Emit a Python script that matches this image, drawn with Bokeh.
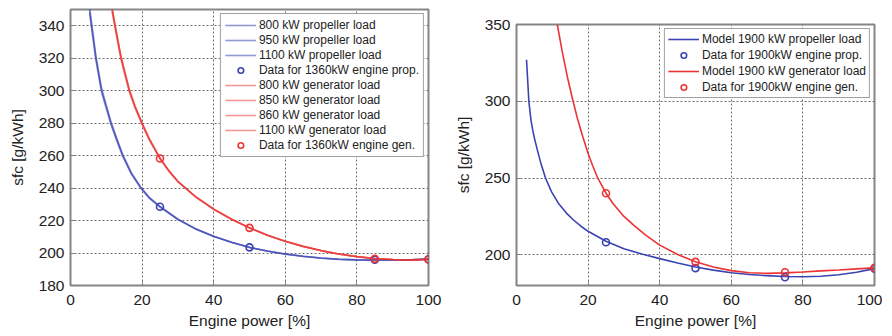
from bokeh.plotting import figure
from bokeh.layouts import row, column
from bokeh.models import Range1d, FixedTicker, Legend, LegendItem, Spacer
from bokeh.embed import file_html
from bokeh.resources import INLINE

# ---------------- Left panel: 1360 kW engine ----------------
prop_x = [5.3, 5.9, 7.1, 8.7, 9.9, 11.3, 12.9, 14.6, 17, 19.7, 22, 25, 30, 35, 40, 45,
          50, 55, 60, 65, 70, 75, 80, 85, 90, 95, 100]
prop_800 = [350, 340, 320, 300, 290.8, 280, 270, 260, 249, 240, 234, 228.5, 220.8, 214.8,
            210.3, 206.6, 203.5, 201.2, 199.4, 198.0, 196.9, 196.2, 195.8, 195.7, 195.7,
            195.9, 196.3]
prop_950 = [352, 342, 321.5, 301.3, 291.8, 281, 270.8, 260.6, 249.5, 240.4, 234.3, 228.7,
            220.9, 214.9, 210.3, 206.6, 203.5, 201.2, 199.4, 198.0, 196.9, 196.2, 195.8,
            195.7, 195.7, 195.9, 196.3]
prop_1100 = [348, 338, 318.5, 298.7, 289.8, 279.2, 269.3, 259.5, 248.6, 239.7, 233.8,
             228.3, 220.6, 214.7, 210.2, 206.5, 203.4, 201.1, 199.3, 197.9, 196.8, 196.1,
             195.7, 195.6, 195.6, 195.8, 196.2]

gen_x = [11.6, 12.4, 14.1, 16.4, 18, 19.9, 22, 25, 27.5, 30, 35, 40, 45, 50, 55, 60, 65,
         70, 75, 80, 85, 90, 95, 100]
gen_800 = [350, 340, 320, 300, 290, 280, 270, 258.2, 250.5, 244, 234.5, 227.0, 220.8,
           215.5, 211.0, 207.2, 204.1, 201.5, 199.4, 197.8, 196.6, 196.0, 195.8, 196.0]
gen_850 = [351, 341, 321, 300.8, 290.6, 280.5, 270.4, 258.4, 250.6, 244.1, 234.6, 227.0,
           220.8, 215.5, 211.0, 207.2, 204.1, 201.5, 199.4, 197.8, 196.6, 196.0, 195.8, 196.0]
gen_860 = [351.5, 341.3, 321.3, 301.1, 290.8, 280.7, 270.5, 258.5, 250.7, 244.2, 234.6,
           227.1, 220.9, 215.6, 211.0, 207.2, 204.1, 201.5, 199.4, 197.8, 196.6, 196.0,
           195.8, 196.0]
gen_1100 = [349, 339, 319.2, 299.3, 289.5, 279.6, 269.7, 258.0, 250.3, 243.9, 234.4,
            226.9, 220.7, 215.4, 210.9, 207.1, 204.0, 201.4, 199.3, 197.7, 196.6, 196.0,
            195.8, 196.0]

data1360_x = [25, 50, 85, 100]
data1360_prop = [228.5, 203.5, 195.9, 196.2]
data1360_gen = [258.2, 215.5, 196.4, 196.0]

left_xticks = [0, 20, 40, 60, 80, 100]
left_yticks = [180, 200, 220, 240, 260, 280, 300, 320, 340]

# ---------------- Right panel: 1900 kW engine ----------------
m1900_prop_x = [2.8, 3.45, 4.05, 4.55, 5.0, 5.8, 6.7, 8.1, 9.8, 11.8, 14, 16, 18, 20, 25,
                30, 35, 40, 45, 50, 55, 60, 65, 70, 75, 80, 85, 90, 95, 100]
m1900_prop_y = [327, 300, 287.5, 281, 276, 268.5, 260.5, 250, 241, 233.2, 227, 222.5,
                218.6, 215.3, 208.8, 204.0, 200.5, 197.5, 194.6, 192.0, 190.0, 188.3,
                187.2, 186.4, 185.9, 185.7, 186.0, 187.0, 188.6, 191.0]
m1900_gen_x = [11.4, 12.8, 14.2, 15.6, 17.0, 18.5, 20.0, 21.3, 22.6, 25, 27, 30, 32.8,
               36, 40, 45, 50, 55, 60, 65, 70, 75, 80, 85, 90, 95, 100]
m1900_gen_y = [350, 332, 316, 302, 289, 277, 266, 257.8, 250.5, 240.1, 233.2, 225,
               219.2, 213, 206.3, 200.2, 195.5, 192.0, 189.7, 188.3, 187.9, 188.2,
               188.8, 189.5, 190.1, 190.8, 191.5]

data1900_x = [25, 50, 75, 100]
data1900_prop = [208.2, 191.3, 185.4, 191.0]
data1900_gen = [240.1, 195.4, 188.6, 191.5]

right_xticks = [0, 20, 40, 60, 80, 100]
right_yticks = [200, 250, 300, 350]

FONT = "Liberation Sans"
BLUE = "#3b43b2"
RED = "#ec3434"
TXT = "#222222"


def style(p, xticks, yticks):
    p.xaxis.ticker = FixedTicker(ticks=xticks)
    p.yaxis.ticker = FixedTicker(ticks=yticks)
    p.xgrid.ticker = FixedTicker(ticks=xticks)
    p.ygrid.ticker = FixedTicker(ticks=yticks)
    for g in (p.xgrid, p.ygrid):
        g.grid_line_color = "#555555"
        g.grid_line_dash = "2 2"
        g.grid_line_alpha = 0.85
        g.grid_line_width = 1
    for ax in (p.xaxis, p.yaxis):
        ax.axis_line_color = None
        ax.major_tick_in = 4
        ax.major_tick_out = 0
        ax.major_tick_line_color = "#808080"
        ax.minor_tick_line_color = None
        ax.major_label_text_font = FONT
        ax.major_label_text_font_size = "15.5px"
        ax.major_label_text_color = TXT
        ax.axis_label_text_font = FONT
        ax.axis_label_text_font_size = "15.5px"
        ax.axis_label_text_font_style = "normal"
        ax.axis_label_text_color = TXT
    p.xaxis.major_label_standoff = 9
    p.yaxis.major_label_standoff = 6
    p.xaxis.axis_label_standoff = 4
    p.yaxis.axis_label_standoff = 10
    p.xaxis.axis_label = "Engine power [%]"
    p.yaxis.axis_label = "sfc [g/kWh]"
    p.outline_line_color = "#858585"
    p.outline_line_width = 2
    p.background_fill_color = "white"
    p.border_fill_color = "white"


def make_legend(items, spacing, padding):
    lg = Legend(items=items, location="top_right")
    lg.margin = 4
    lg.padding = padding
    lg.spacing = spacing
    lg.label_height = 14
    lg.glyph_height = 14
    lg.glyph_width = 31
    lg.label_standoff = 3
    lg.label_text_font = FONT
    lg.label_text_font_size = "12px"
    lg.label_text_color = TXT
    lg.border_line_color = "#444444"
    lg.border_line_width = 1
    lg.background_fill_color = "white"
    lg.background_fill_alpha = 1
    return lg


# ---------- left figure ----------
p1 = figure(frame_width=358, frame_height=276, min_border_left=70, min_border_right=18,
            min_border_top=9, min_border_bottom=49,
            x_range=Range1d(0, 100), y_range=Range1d(180, 350),
            output_backend="svg", toolbar_location=None)
style(p1, left_xticks, left_yticks)

lw = 1.6
r_p800 = p1.line(prop_x, prop_800, line_color=BLUE, line_alpha=0.55, line_width=lw)
r_p950 = p1.line(prop_x, prop_950, line_color=BLUE, line_alpha=0.55, line_width=lw)
r_p1100 = p1.line(prop_x, prop_1100, line_color=BLUE, line_alpha=0.55, line_width=lw)
r_g800 = p1.line(gen_x, gen_800, line_color=RED, line_alpha=0.5, line_width=lw)
r_g850 = p1.line(gen_x, gen_850, line_color=RED, line_alpha=0.5, line_width=lw)
r_g860 = p1.line(gen_x, gen_860, line_color=RED, line_alpha=0.5, line_width=lw)
r_g1100 = p1.line(gen_x, gen_1100, line_color=RED, line_alpha=0.5, line_width=lw)
r_dp = p1.scatter(data1360_x, data1360_prop, marker="circle", size=7, fill_color=None,
                  line_color=BLUE, line_width=1.6)
r_dg = p1.scatter(data1360_x, data1360_gen, marker="circle", size=7, fill_color=None,
                  line_color=RED, line_width=1.6)

lg1 = make_legend([
    LegendItem(label="800 kW propeller load", renderers=[r_p800]),
    LegendItem(label="950 kW propeller load", renderers=[r_p950]),
    LegendItem(label="1100 kW propeller load", renderers=[r_p1100]),
    LegendItem(label="Data for 1360kW engine prop.", renderers=[r_dp]),
    LegendItem(label="800 kW generator load", renderers=[r_g800]),
    LegendItem(label="850 kW generator load", renderers=[r_g850]),
    LegendItem(label="860 kW generator load", renderers=[r_g860]),
    LegendItem(label="1100 kW generator load", renderers=[r_g1100]),
    LegendItem(label="Data for 1360kW engine gen.", renderers=[r_dg]),
], spacing=1, padding=4)
p1.add_layout(lg1)

# ---------- right figure ----------
p2 = figure(frame_width=358, frame_height=261, min_border_left=70, min_border_right=8,
            min_border_top=9, min_border_bottom=49,
            x_range=Range1d(0, 100), y_range=Range1d(180, 350),
            output_backend="svg", toolbar_location=None)
style(p2, right_xticks, right_yticks)

r_mp = p2.line(m1900_prop_x, m1900_prop_y, line_color=BLUE, line_width=1.6)
r_mg = p2.line(m1900_gen_x, m1900_gen_y, line_color=RED, line_width=1.6)
r_dp2 = p2.scatter(data1900_x, data1900_prop, marker="circle", size=7, fill_color=None,
                   line_color=BLUE, line_width=1.6)
r_dg2 = p2.scatter(data1900_x, data1900_gen, marker="circle", size=7, fill_color=None,
                   line_color=RED, line_width=1.6)

lg2 = make_legend([
    LegendItem(label="Model 1900 kW propeller load", renderers=[r_mp]),
    LegendItem(label="Data for 1900kW engine prop.", renderers=[r_dp2]),
    LegendItem(label="Model 1900 kW generator load", renderers=[r_mg]),
    LegendItem(label="Data for 1900kW engine gen.", renderers=[r_dg2]),
], spacing=2, padding=3)
p2.add_layout(lg2)

layout = row(p1, column(Spacer(height=15, width=10), p2))
open("out.html", "w").write(file_html(layout, INLINE))
